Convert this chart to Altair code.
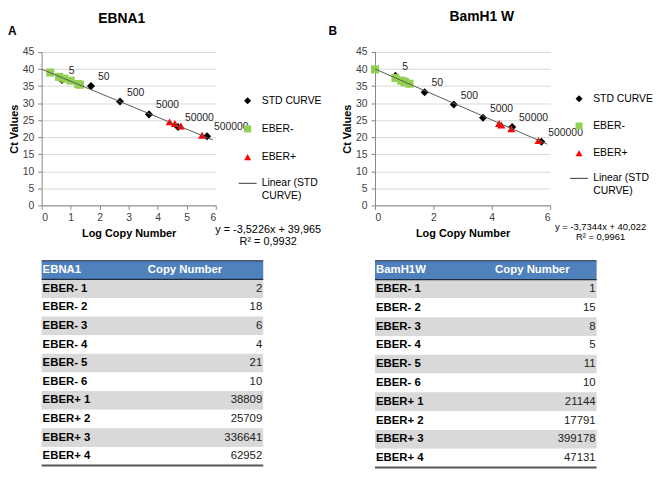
import altair as alt
import pandas as pd

FONT = "Liberation Sans"

# ---------------- data ----------------
series_names = ["STD CURVE", "EBER-", "EBER+", "Linear (STD CURVE)"]
series_colors = ["#000000", "#92D050", "#FF0000", "#595959"]
series_shapes = ["diamond", "square", "triangle-up", "stroke"]

std_log = [0.7, 1.7, 2.7, 3.7, 4.7, 5.7]
std_labels = ["5", "50", "500", "5000", "50000", "500000"]

# Panel A (EBNA1)
a_std_ct = [36.8, 35.0, 30.5, 26.7, 23.0, 20.3]
a_neg_log = [0.30, 1.26, 0.78, 0.60, 1.32, 1.00]
a_neg_ct = [39.0, 35.6, 37.2, 37.7, 35.4, 36.6]
a_pos_log = [4.59, 4.41, 5.53, 4.80]
a_pos_ct = [24.0, 24.5, 20.6, 23.3]
a_slope, a_intercept = -3.5226, 39.965
a_eq = ["y = -3,5226x + 39,965", "R² = 0,9932"]

# Panel B (BamH1 W)
b_std_ct = [38.0, 33.2, 29.6, 25.7, 23.0, 18.7]
b_neg_log = [0.00, 1.18, 0.90, 0.70, 1.04, 1.00]
b_neg_ct = [39.9, 35.7, 36.6, 37.4, 36.1, 36.3]
b_pos_log = [4.33, 4.25, 5.60, 4.67]
b_pos_ct = [23.6, 24.0, 19.0, 22.5]
b_slope, b_intercept = -3.7344, 40.022
b_eq = ["y = -3,7344x + 40,022", "R² = 0,9961"]

trend_x = [0.0, 5.9]

# Tables
row_labels = ["EBER- 1", "EBER- 2", "EBER- 3", "EBER- 4", "EBER- 5", "EBER- 6",
              "EBER+ 1", "EBER+ 2", "EBER+ 3", "EBER+ 4"]
a_copy = [2, 18, 6, 4, 21, 10, 38809, 25709, 336641, 62952]
b_copy = [1, 15, 8, 5, 11, 10, 21144, 17791, 399178, 47131]

LINE_NAME = series_names[3]


def scatter(std_ct, neg_log, neg_ct, pos_log, pos_ct, slope, intercept, eq,
            title, letter, w, h, xticks, lx, ly, row_pad, title_xy, letter_xy, eq_xy, eq_size, eq_lh):
    pts = pd.DataFrame({
        "x": std_log + neg_log + pos_log,
        "y": std_ct + neg_ct + pos_ct,
        "series": ["STD CURVE"] * len(std_log) + ["EBER-"] * len(neg_log) + ["EBER+"] * len(pos_log),
    })
    line_df = pd.DataFrame({
        "x": trend_x,
        "y": [intercept + slope * v for v in trend_x],
    })
    lab_df = pd.DataFrame({"x": std_log, "y": std_ct, "label": std_labels})
    one = pd.DataFrame({"k": [0]})

    xs = alt.Scale(domain=[0, 6], nice=False, zero=False)
    ys = alt.Scale(domain=[0, 45], nice=False)
    leg = alt.Legend(
        title=None, orient="none", legendX=lx, legendY=ly,
        labelFont=FONT, labelFontSize=10.5, labelColor="#000000",
        labelLimit=200, rowPadding=row_pad, labelOffset=9, padding=0,
        symbolSize={"expr": "isObject(datum) && datum.value == '%s' ? 330 : 50" % LINE_NAME},
        symbolStrokeColor={"expr": "isObject(datum) && datum.value == '%s' ? '%s' : 'transparent'"
                                   % (LINE_NAME, series_colors[3])},
        symbolStrokeWidth=1.2,
        labelExpr="datum.label == '%s' ? ['Linear (STD', 'CURVE)'] : datum.label" % LINE_NAME,
    )
    X = alt.X("x:Q", scale=xs, axis=alt.Axis(values=xticks, title="Log Copy Number", grid=False,
                                              labelPadding=3, titlePadding=5, format="d"))
    Y = alt.Y("y:Q", scale=ys, axis=alt.Axis(values=list(range(0, 46, 5)), title="Ct Values",
                                              grid=True, labelPadding=4, titlePadding=3))

    points = alt.Chart(pts).mark_point(filled=True, opacity=1, size=66).encode(
        x=X, y=Y,
        color=alt.Color("series:N", scale=alt.Scale(domain=series_names, range=series_colors), legend=leg),
        shape=alt.Shape("series:N", scale=alt.Scale(domain=series_names, range=series_shapes), legend=leg),
    )
    line = alt.Chart(line_df).mark_line(strokeWidth=1, color=series_colors[3]).encode(x=X, y=Y)
    labels = alt.Chart(lab_df).mark_text(align="left", baseline="middle", dx=7, dy=-9,
                                         font=FONT, fontSize=10.5).encode(
        x=X, y=Y, text="label:N", color=alt.value("#262626"))
    ttl = alt.Chart(one).mark_text(text=title, font=FONT, fontSize=14, fontWeight="bold",
                                   align="center", baseline="middle", color="#000000").encode(
        x=alt.value(title_xy[0]), y=alt.value(title_xy[1]))
    let = alt.Chart(one).mark_text(text=letter, font=FONT, fontSize=12, fontWeight="bold",
                                   align="left", baseline="middle", color="#000000").encode(
        x=alt.value(letter_xy[0]), y=alt.value(letter_xy[1]))
    eqt = alt.Chart(one).mark_text(text=eq, font=FONT, fontSize=eq_size, lineHeight=eq_lh,
                                   align="center", baseline="middle", color="#000000").encode(
        x=alt.value(eq_xy[0]), y=alt.value(eq_xy[1]))
    return alt.layer(points, line, labels, ttl, let, eqt).properties(width=w, height=h)


def table(header, copies, w, h, header_x):
    n = len(row_labels) + 1
    df = pd.DataFrame({
        "i": list(range(n)),
        "label": [header] + row_labels,
        "value": ["Copy Number"] + [str(c) for c in copies],
        "kind": ["header"] + ["shade" if k % 2 == 0 else "plain" for k in range(len(row_labels))],
    })
    xs = alt.Scale(domain=[0, 1], nice=False, zero=False)
    ys = alt.Scale(domain=[0, n], nice=False, reverse=True)
    base = alt.Chart(df).transform_calculate(i2="datum.i + 1", ic="datum.i + 0.5")
    rects = base.mark_rect().encode(
        x=alt.X(datum=0, scale=xs, axis=None), x2=alt.X2(datum=1),
        y=alt.Y("i:Q", scale=ys, axis=None), y2="i2:Q",
        color=alt.Color("kind:N", scale=alt.Scale(domain=["header", "shade", "plain"],
                                                  range=["#4F81BD", "#D9D9D9", "#FFFFFF"]), legend=None),
    )
    left = base.mark_text(align="left", baseline="middle", dx=1, font=FONT, fontSize=11.5,
                          fontWeight="bold").encode(
        x=alt.X(datum=0), y="ic:Q", text="label:N",
        color=alt.condition("datum.i == 0", alt.value("#FFFFFF"), alt.value("#000000")),
    )
    right = base.transform_filter("datum.i > 0").mark_text(
        align="right", baseline="middle", dx=-1, font=FONT, fontSize=11.5, color="#222222").encode(
        x=alt.X(datum=1), y="ic:Q", text="value:N")
    head = base.transform_filter("datum.i == 0").mark_text(
        align="center", baseline="middle", font=FONT, fontSize=11.5, fontWeight="bold",
        color="#FFFFFF").encode(x=alt.X(datum=header_x), y="ic:Q", text="value:N")
    top_rule = base.transform_filter("datum.i == 0").mark_rule(color="#1F2A3A", strokeWidth=1).encode(
        x=alt.X(datum=0), x2=alt.X2(datum=1), y="i:Q")
    mid_rule = base.transform_filter("datum.i == 0").mark_rule(color="#1F2A3A", strokeWidth=1.2).encode(
        x=alt.X(datum=0), x2=alt.X2(datum=1), y="i2:Q")
    bot_rule = base.transform_filter("datum.i == %d" % (n - 1)).mark_rule(color="#555555", strokeWidth=2).encode(
        x=alt.X(datum=0), x2=alt.X2(datum=1), y="i2:Q")
    return alt.layer(rects, left, right, head, top_rule, mid_rule, bot_rule).properties(width=w, height=h)


plot_a = scatter(a_std_ct, a_neg_log, a_neg_ct, a_pos_log, a_pos_ct, a_slope, a_intercept, a_eq,
                 "EBNA1", "A", 176, 155, [0, 1, 2, 3, 4, 5, 6], 203, 44, 15.5,
                 (81, -33), (-34, -21), (229, 180), 11, 12)
plot_b = scatter(b_std_ct, b_neg_log, b_neg_ct, b_pos_log, b_pos_ct, b_slope, b_intercept, b_eq,
                 "BamH1 W", "B", 177, 155, [0, 2, 4, 6], 201, 42, 14.5,
                 (108, -35), (-47, -21), (228, 177), 9.5, 10.5)
table_a = table("EBNA1", a_copy, 224, 207, 0.647)
table_b = table("BamH1W", b_copy, 224, 209, 0.71)

chart = alt.concat(plot_a, plot_b, table_a, table_b, columns=2, bounds="flush",
                   spacing={"row": 56, "column": 113}).resolve_scale(
    color="independent", shape="independent",
    x="independent", y="independent").resolve_legend(
    color="independent", shape="independent"
).properties(padding=0).configure_view(stroke=None).configure_axis(
    labelFont=FONT, labelFontSize=10.5, labelColor="#404040",
    titleFont=FONT, titleFontSize=11, titleFontWeight="bold", titleColor="#000000",
    domainColor="#868686", tickColor="#868686", tickSize=4, gridColor="#D9D9D9",
)

chart.save("out.html", embed_options={"renderer": "svg", "actions": False})
